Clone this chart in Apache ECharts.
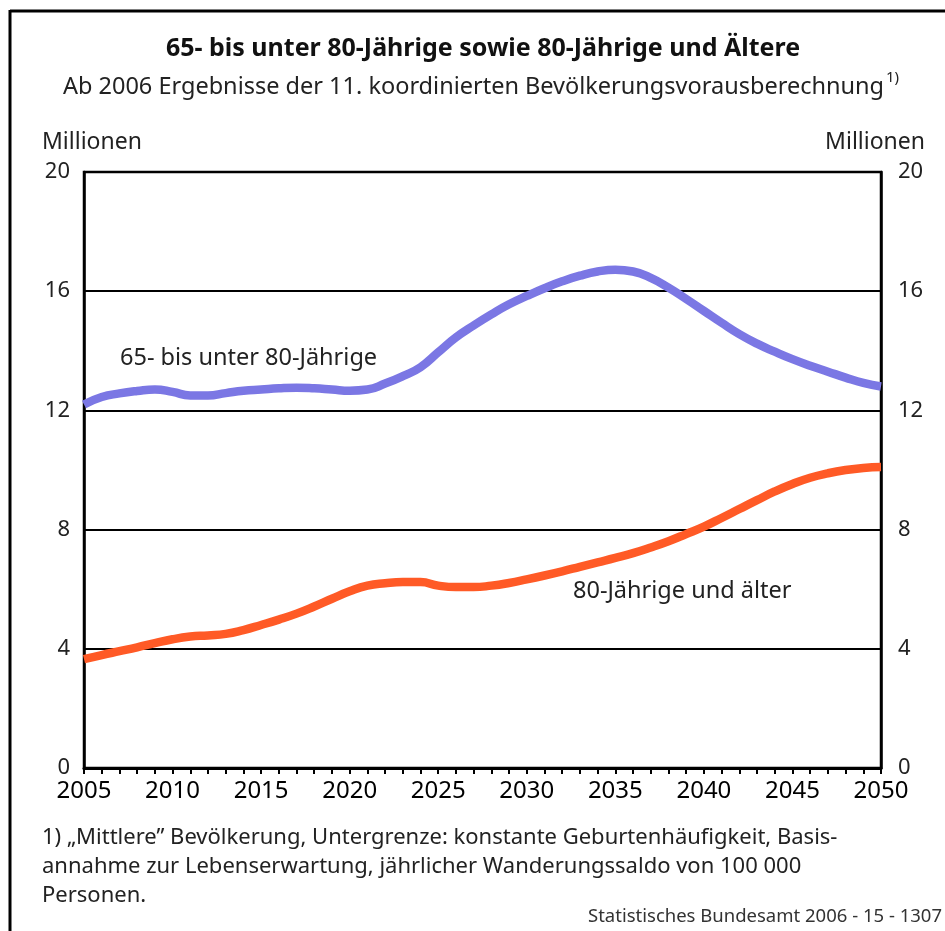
<!DOCTYPE html>
<html>
<head>
<meta charset="utf-8">
<script src="https://cdn.jsdelivr.net/npm/echarts@6/dist/echarts.min.js"></script>
<style>
  html, body { margin: 0; padding: 0; background: #fff; }
  #chart { width: 945px; height: 931px; }
</style>
</head>
<body>
<div id="chart"></div>
<script>
  // Jahre 2005 - 2050
  const years = [];
  for (let y = 2005; y <= 2050; y++) years.push(y);

  // 65- bis unter 80-Jährige (Mio.)
  const age65to80 = [
    12.2, 12.45, 12.57, 12.65, 12.7, 12.62, 12.5, 12.5, 12.58, 12.66,
    12.7, 12.74, 12.76, 12.74, 12.7, 12.66, 12.7, 12.9, 13.15, 13.45,
    13.95, 14.45, 14.85, 15.22, 15.56, 15.84, 16.1, 16.33, 16.52, 16.66,
    16.72, 16.66, 16.45, 16.12, 15.74, 15.34, 14.94, 14.56, 14.24, 13.97,
    13.72, 13.5, 13.3, 13.1, 12.92, 12.8
  ];

  // 80-Jährige und älter (Mio.)
  const age80plus = [
    3.65, 3.79, 3.92, 4.05, 4.19, 4.32, 4.41, 4.45, 4.5, 4.63,
    4.8, 4.98, 5.18, 5.42, 5.68, 5.93, 6.12, 6.2, 6.24, 6.24,
    6.12, 6.07, 6.07, 6.12, 6.21, 6.33, 6.46, 6.6, 6.75, 6.9,
    7.05, 7.21, 7.4, 7.61, 7.85, 8.1, 8.39, 8.69, 8.99, 9.28,
    9.53, 9.74, 9.89, 10.0, 10.07, 10.1
  ];

  const yTicks = [0, 4, 8, 12, 16, 20];

  const FONT = '"Noto Sans", "Open Sans", sans-serif';
  const PURPLE = '#7b77e4';
  const ORANGE = '#ff5a26';

  const chart = echarts.init(document.getElementById('chart'));

  const yAxisBase = {
    type: 'value',
    min: yTicks[0],
    max: yTicks[yTicks.length - 1],
    interval: 4,
    axisLine: { show: true, lineStyle: { color: '#000', width: 2.5 } },
    axisTick: { show: false },
    splitLine: { show: true, lineStyle: { color: '#000', width: 2 } },
    axisLabel: { color: '#222', fontSize: 22, fontFamily: FONT },
  };

  const option = {
    backgroundColor: '#fff',
    animation: false,
    grid: { left: 84, right: 64, top: 172, bottom: 163, show: true, borderColor: '#000', borderWidth: 2.5 },
    xAxis: {
      type: 'value',
      min: 2005,
      max: 2050,
      interval: 5,
      axisLine: { show: true, onZero: false, lineStyle: { color: '#000', width: 3 } },
      axisTick: { show: true, length: 6, lineStyle: { color: '#000', width: 2 } },
      minorTick: { show: true, splitNumber: 5, length: 6, lineStyle: { color: '#000', width: 2 } },
      splitLine: { show: false },
      axisLabel: { color: '#000', fontSize: 24, fontFamily: FONT, margin: 11, formatter: (v) => String(v) },
    },
    yAxis: [
      Object.assign({}, yAxisBase, { position: 'left', axisLabel: Object.assign({}, yAxisBase.axisLabel, { margin: 14 }) }),
      Object.assign({}, yAxisBase, { position: 'right', splitLine: { show: false }, axisLabel: Object.assign({}, yAxisBase.axisLabel, { margin: 17 }) }),
    ],
    series: [
      {
        name: '65- bis unter 80-Jährige',
        type: 'line',
        data: years.map((y, i) => [y, age65to80[i]]),
        smooth: 0.5,
        showSymbol: false,
        lineStyle: { color: PURPLE, width: 8.5, cap: 'butt' },
        z: 3,
      },
      {
        name: '80-Jährige und älter',
        type: 'line',
        data: years.map((y, i) => [y, age80plus[i]]),
        smooth: 0.5,
        showSymbol: false,
        lineStyle: { color: ORANGE, width: 8.5, cap: 'butt' },
        z: 3,
      },
    ],
    graphic: [
      // Rahmen
      { type: 'line', shape: { x1: 10, y1: 11, x2: 945, y2: 11 }, style: { stroke: '#000', lineWidth: 3 } },
      { type: 'line', shape: { x1: 10, y1: 10, x2: 10, y2: 931 }, style: { stroke: '#000', lineWidth: 3 } },
      // Titel
      { type: 'text', x: 483, y: 36, style: { text: '65- bis unter 80-Jährige sowie 80-Jährige und Ältere', font: 'bold 25px ' + FONT, fill: '#111', align: 'center' } },
      {
        type: 'text', x: 481, y: 70,
        style: {
          text: '{m|Ab 2006 Ergebnisse der 11. koordinierten Bevölkerungsvorausberechnung}{s|1)}',
          align: 'center',
          rich: {
            m: { font: '23.5px ' + FONT, fill: '#222', verticalAlign: 'bottom' },
            s: { font: '15px ' + FONT, fill: '#222', verticalAlign: 'top', padding: [0, 0, 14, 2] },
          },
        },
      },
      // Einheiten
      { type: 'text', x: 42, y: 131, style: { text: 'Millionen', font: '23px ' + FONT, fill: '#222' } },
      { type: 'text', x: 925, y: 131, style: { text: 'Millionen', font: '23px ' + FONT, fill: '#222', align: 'right' } },
      // Linienbeschriftungen
      { type: 'text', x: 120, y: 346, style: { text: '65- bis unter 80-Jährige', font: '23.5px ' + FONT, fill: '#222' } },
      { type: 'text', x: 573, y: 579, style: { text: '80-Jährige und älter', font: '23.5px ' + FONT, fill: '#222' } },
      // Fußnote
      { type: 'text', x: 42, y: 827, style: { text: '1) „Mittlere” Bevölkerung, Untergrenze: konstante Geburtenhäufigkeit, Basis-', font: '22px ' + FONT, fill: '#222' } },
      { type: 'text', x: 42, y: 856, style: { text: 'annahme zur Lebenserwartung, jährlicher Wanderungssaldo von 100 000', font: '22px ' + FONT, fill: '#222' } },
      { type: 'text', x: 42, y: 885, style: { text: 'Personen.', font: '22px ' + FONT, fill: '#222' } },
      { type: 'text', x: 942, y: 907, style: { text: 'Statistisches Bundesamt 2006 - 15 - 1307', font: '18.5px ' + FONT, fill: '#333', align: 'right' } },
    ],
  };

  chart.setOption(option);
</script>
</body>
</html>
